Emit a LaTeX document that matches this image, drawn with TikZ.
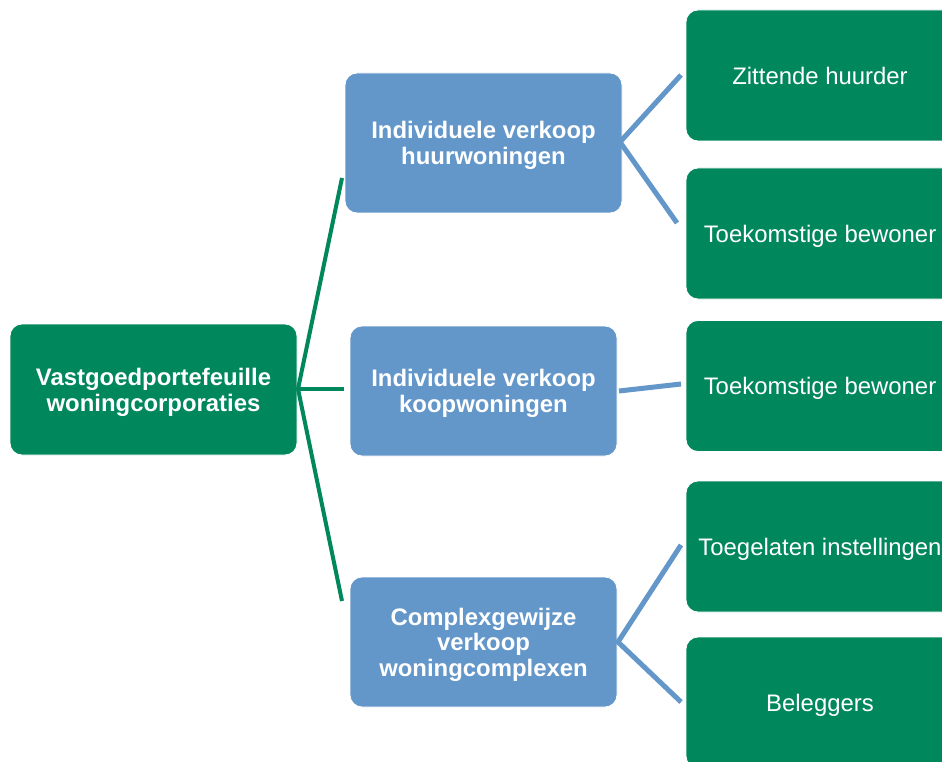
\documentclass[tikz,border=0pt]{standalone}
\usepackage{fontspec}
\setmainfont{Liberation Sans}
\definecolor{boxgreen}{RGB}{0,135,91}
\definecolor{boxblue}{RGB}{99,150,201}
\begin{document}
\begin{tikzpicture}[x=1pt,y=-1pt,
  box/.style={rectangle, rounded corners=12pt, draw=white, line width=0.8pt,
    text=white, align=center, inner sep=0pt, text depth=0pt,
    font=\fontsize{23.9}{26}\selectfont},
  rootbox/.style={box, fill=boxgreen, font=\fontsize{23.9}{26}\selectfont\bfseries},
  midbox/.style={box, fill=boxblue, font=\fontsize{23.9}{25.5}\selectfont\bfseries},
  leafbox/.style={box, fill=boxgreen, minimum width=268pt, minimum height=131pt},
  glink/.style={draw=boxgreen, line width=4pt},
  blink/.style={draw=boxblue, line width=5pt}]
\clip (0,0) rectangle (942,762);
\fill[white] (0,0) rectangle (942,762);

\node[rootbox, minimum width=287pt, minimum height=131pt] (root) at (153.5,389.5)
  {Vastgoedportefeuille\\woningcorporaties};
\node[midbox, minimum width=277pt, minimum height=140pt] (b1) at (483.5,143)
  {Individuele verkoop\\huurwoningen};
\node[midbox, minimum width=267pt, minimum height=130pt] (b2) at (483.5,391)
  {Individuele verkoop\\koopwoningen};
\node[midbox, minimum width=267pt, minimum height=130pt] (b3) at (483.5,642)
  {Complexgewijze\\verkoop\\woningcomplexen};

\node[leafbox] (l1) at (820,75.5) {Zittende huurder};
\node[leafbox] (l2) at (820,233.5) {Toekomstige bewoner};
\node[leafbox] (l3) at (820,386) {Toekomstige bewoner};
\node[leafbox] (l4) at (820,546.5) {Toegelaten instellingen};
\node[leafbox] (l5) at (820,702.5) {Beleggers};

% junction and free ends
\coordinate (j0) at (298,389);
\coordinate (g1) at (342,178);
\coordinate (g2) at (344,389);
\coordinate (g3) at (342,601);
\draw[glink] (g1) -- (j0) -- (g3);
\draw[glink] (j0) -- (g2);

\coordinate (j1) at (620,142);
\coordinate (e11) at (681,75);
\coordinate (e12) at (677,223);
\draw[blink] (e11) -- (j1) -- (e12);

\coordinate (j2) at (619,391);
\coordinate (e21) at (681,384);
\draw[blink] (j2) -- (e21);

\coordinate (j3) at (618,642);
\coordinate (e31) at (681,545);
\coordinate (e32) at (681,702);
\draw[blink] (e31) -- (j3) -- (e32);
\end{tikzpicture}
\end{document}
